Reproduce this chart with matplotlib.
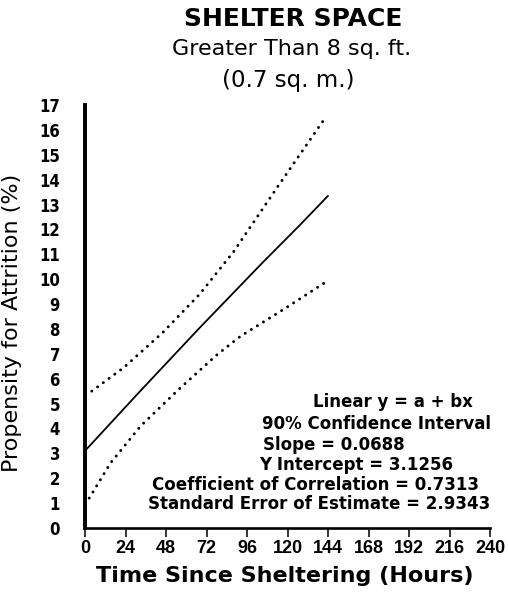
import matplotlib
matplotlib.use("Agg")
import matplotlib.pyplot as plt

plt.rcParams['font.family'] = ['Liberation Sans', 'DejaVu Sans']

# ---- data ----
x_ticks = [0, 24, 48, 72, 96, 120, 144, 168, 192, 216, 240]
y_ticks = list(range(0, 18))

fit_x = [0, 32, 68, 105, 127, 144]
fit_y = [3.1, 5.45, 8.05, 10.65, 12.15, 13.35]

upper_x = [4, 23, 46, 68, 88, 114, 142]
upper_y = [5.5, 6.45, 7.85, 9.4, 11.1, 13.7, 16.45]

lower_x = [2.5, 15, 33, 56, 78, 92, 118, 143]
lower_y = [1.2, 2.6, 4.1, 5.6, 6.95, 7.7, 8.8, 9.9]

title = "SHELTER SPACE"
subtitle1 = "Greater Than 8 sq. ft."
subtitle2 = "(0.7 sq. m.)"
xlabel = "Time Since Sheltering (Hours)"
ylabel = "Propensity for Attrition (%)"
stats_lines = [
    "Linear y = a + bx",
    "90% Confidence Interval",
    "Slope = 0.0688",
    "Y Intercept = 3.1256",
    "Coefficient of Correlation = 0.7313",
    "Standard Error of Estimate = 2.9343",
]

W, H = 509, 597
fig = plt.figure(figsize=(W / 100, H / 100), dpi=100)
fig.patch.set_facecolor('white')

ax_l, ax_r, ax_t, ax_b = 85, 490, 105, 528
ax = fig.add_axes([ax_l / W, 1 - ax_b / H, (ax_r - ax_l) / W, (ax_b - ax_t) / H])

ax.plot(fit_x, fit_y, color='black', lw=1.3, solid_capstyle='round')
for xs, ys in ((upper_x, upper_y), (lower_x, lower_y)):
    ax.plot(xs, ys, color='black', lw=2.1, linestyle=(0, (0.05, 2.4)),
            dash_capstyle='round')

ax.set_xlim(0, 240)
ax.set_ylim(0, 17)
ax.set_xticks(x_ticks)
ax.set_yticks(y_ticks)
ax.set_xticklabels([str(v) for v in x_ticks], fontsize=13, fontweight='bold')
ax.set_yticklabels([str(v) for v in y_ticks], fontsize=12, fontweight='bold',
                   family='DejaVu Sans', fontstretch='condensed')

ax.tick_params(axis='x', direction='out', length=6.5, width=1.1, pad=2, color='black')
ax.tick_params(axis='y', length=0, pad=18)

for s in ('top', 'right'):
    ax.spines[s].set_visible(False)
ax.spines['left'].set_linewidth(2.8)
ax.spines['bottom'].set_linewidth(1.9)

ax.set_xlabel(xlabel, fontsize=16, fontweight='bold', family='DejaVu Sans')
ax.xaxis.set_label_coords((285 - ax_l) / (ax_r - ax_l), (ax_b - 566) / (ax_b - ax_t))
ax.set_ylabel(ylabel, fontsize=16, family='DejaVu Sans')
ax.yaxis.set_label_coords((22 - ax_l) / (ax_r - ax_l), (ax_b - 323) / (ax_b - ax_t))

def ftext(px, py, s, **kw):
    fig.text(px / W, 1 - py / H, s, **kw)

ftext(293, 19, title, fontsize=18, fontweight='bold', ha='center', va='center',
      family='DejaVu Sans')
ftext(292, 49, subtitle1, fontsize=16, ha='center', va='center', family='DejaVu Sans')
ftext(288, 80, subtitle2, fontsize=16.5, ha='center', va='center', family='DejaVu Sans')

stats_pos = [(313, 402), (262, 424), (263, 445), (259, 465), (152, 485), (148, 504)]
for (px, py), s in zip(stats_pos, stats_lines):
    ftext(px, py, s, fontsize=12, fontweight='bold', ha='left', va='center',
          family='DejaVu Sans')

fig.savefig("out.png", dpi=100, facecolor='white')
